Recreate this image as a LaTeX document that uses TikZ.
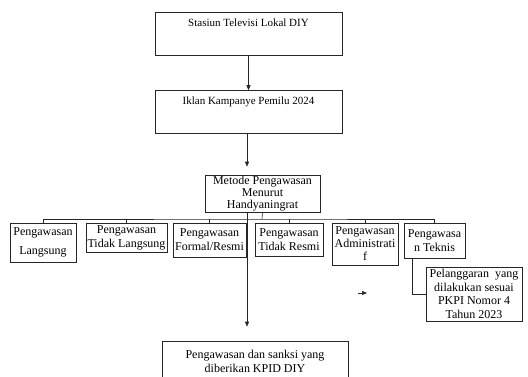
\documentclass[tikz,border=0pt]{standalone}
\usepackage{fontspec}
\setmainfont{Liberation Serif}
\usepackage{tikz}
\usetikzlibrary{arrows.meta, positioning, calc}
\tikzstyle{box} = [draw=black!85, line width=0.6pt, inner sep=1pt, align=center, font=\fontsize{12}{14}\selectfont]
\tikzstyle{topbox} = [box, minimum width=187pt, minimum height=43pt, text height=13pt, text depth=28pt, font=\fontsize{11}{13}\selectfont]
\tikzstyle{link} = [draw=black!85, line width=0.6pt]
\tikzstyle{arrowline} = [link, -{Triangle[length=5pt, width=4pt]}]

\begin{document}
\begin{tikzpicture}[x=1pt, y=-1pt]
    \useasboundingbox (0,0) rectangle (528,376);
    \clip (0,0) rectangle (528,376);

    % Top of the flow
    \node[topbox] (stasiun) at (248.5,33.5) {Stasiun Televisi Lokal DIY};
    \node[topbox] (iklan) at (248.5,112) {Iklan Kampanye Pemilu 2024};
    \node[box, minimum width=115pt, minimum height=37pt, inner sep=0.5pt, font=\fontsize{12}{12}\selectfont] (metode) at (262.5,193.5) {Metode Pengawasan\\Menurut\\Handyaningrat};

    % Methods (one row)
    \node[box, minimum width=66pt, minimum height=39pt] (langsung) at (43,242.5) {Pengawasan\\[5pt]Langsung};
    \node[box, minimum width=81pt, minimum height=29pt] (tlangsung) at (126.5,237.5) {Pengawasan\\Tidak Langsung};
    \node[box, minimum width=73pt, minimum height=34pt] (formal) at (209.5,240) {Pengawasan\\Formal/Resmi};
    \node[box, minimum width=68pt, minimum height=33pt] (tresmi) at (289,239.5) {Pengawasan\\Tidak Resmi};
    \node[box, minimum width=66pt, minimum height=42pt, font=\fontsize{12}{13}\selectfont] (admin) at (365,244) {Pengawasan\\Administrati\\f};
    \node[box, minimum width=61pt, minimum height=35pt] (teknis) at (434.5,240.5) {Pengawasa\\n Teknis};

    \node[box, minimum width=96pt, minimum height=54pt, font=\fontsize{12}{13.5}\selectfont] (pelanggaran) at (474,294) {Pelanggaran\ \ yang\\dilakukan sesuai\\PKPI Nomor 4\\Tahun 2023};

    % Bottom box (runs past the page edge)
    \node[box, minimum width=186pt, minimum height=40pt] (kpid) at (255,361) {Pengawasan dan sanksi yang\\diberikan KPID DIY};

    % Arrows down the middle
    \draw[arrowline] (stasiun.south) -- (iklan.north);
    \draw[arrowline, shorten >=8pt] ([xshift=-1.5pt]iklan.south) -- ([xshift=-1.5pt]iklan.south |- metode.north);
    \draw[arrowline, shorten >=14pt] ([xshift=-15.5pt]metode.south) -- ([xshift=-15.5pt]metode.south |- kpid.north);

    % Bus to the methods
    \coordinate (bus) at (262,219);
    \draw[link] (metode.south) -- (bus);
    \draw[link] (langsung.north) |- (bus) -| (teknis.north);
    \foreach \m in {tlangsung, formal, tresmi, admin}
        \draw[link] (\m.north) -- (\m.north |- bus);

    % Teknis to Pelanggaran
    \draw[link] ([xshift=-22.5pt]teknis.south) |- (pelanggaran.west);

    % Loose arrow
    \coordinate (s1) at (358,293);
    \coordinate (s2) at (367,293);
    \draw[arrowline] (s1) -- (s2);
\end{tikzpicture}
\end{document}
